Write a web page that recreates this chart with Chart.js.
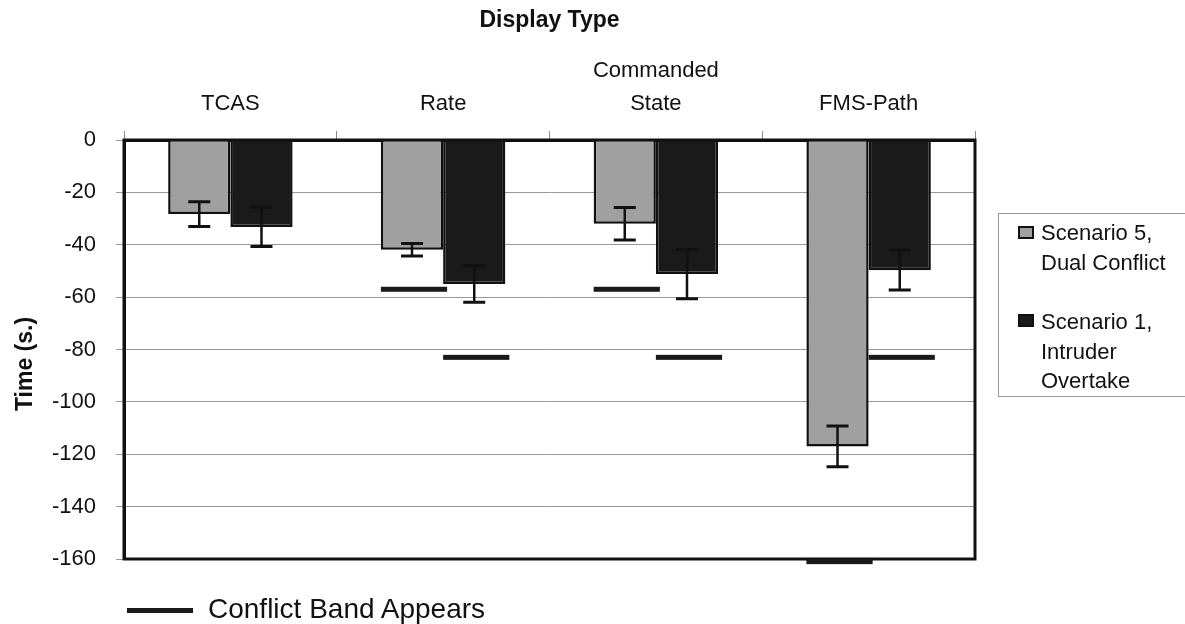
<!DOCTYPE html>
<html>
<head>
<meta charset="utf-8">
<script src="https://cdn.jsdelivr.net/npm/chart.js@4/dist/chart.umd.min.js"></script>
<style>
  html, body { margin: 0; padding: 0; background: #fff; }
  #wrap { position: relative; width: 1185px; height: 624px; overflow: hidden; font-family: "Liberation Sans", Arial, Helvetica, sans-serif; color: #111; }
  #c { position: absolute; left: 0; top: 0; }
  .legbox { position: absolute; left: 998px; top: 213px; width: 200px; height: 184px; border: 1px solid #999; box-sizing: border-box; }
  .mk { position: absolute; width: 16px; height: 13px; box-sizing: border-box; border: 2px solid #111; }
  .lt { position: absolute; font-size: 22px; line-height: 29.5px; white-space: nowrap; }
  .bandline { position: absolute; left: 127px; top: 608px; width: 66px; height: 5px; background: #1a1a1a; }
  .bandtxt { position: absolute; left: 208px; top: 593px; font-size: 28px; line-height: 32px; white-space: nowrap; }
</style>
</head>
<body>
<div id="wrap">
  <canvas id="c" width="1185" height="624"></canvas>
  <div class="legbox"></div>
  <div class="mk" style="left:1018px; top:226px; background:#a0a0a0;"></div>
  <div class="lt" style="left:1041px; top:218px;">Scenario 5,<br>Dual Conflict</div>
  <div class="mk" style="left:1018px; top:314px; background:#1a1a1a;"></div>
  <div class="lt" style="left:1041px; top:307px;">Scenario 1,<br>Intruder<br>Overtake</div>
  <div class="bandline"></div>
  <div class="bandtxt">Conflict Band Appears</div>
</div>
<script>
// ---- data ----
const categories = [['TCAS'], ['Rate'], ['Commanded', 'State'], ['FMS-Path']];
const seriesNames = ['Scenario 5, Dual Conflict', 'Scenario 1, Intruder Overtake'];
const scenario5 = [-28.3, -41.9, -32.0, -117.0];
const scenario5Err = [4.75, 2.35, 6.2, 7.8];
const scenario1 = [-33.2, -55.0, -51.2, -49.7];
const scenario1Err = [7.5, 7.0, 9.4, 7.6];
const scenario5Band = [null, -57, -57, -161];
const scenario1Band = [null, -83, -83, -83];
const yMin = -160, yMax = 0, yStep = 20;

const FONT = '"Liberation Sans", Arial, Helvetica, sans-serif';
const errors = [scenario5Err, scenario1Err];
const bands = [scenario5Band, scenario1Band];

const overlay = {
  id: 'overlay',
  afterDatasetsDraw(chart) {
    const ctx = chart.ctx;
    const a = chart.chartArea;
    const y = chart.scales.y;
    ctx.save();
    // frame
    ctx.strokeStyle = '#111';
    ctx.lineWidth = 3;
    ctx.strokeRect(a.left, a.top, a.right - a.left, a.bottom - a.top);
    // error bars and conflict bands
    [0, 1].forEach(di => {
      const meta = chart.getDatasetMeta(di);
      const vals = chart.data.datasets[di].data;
      meta.data.forEach((bar, i) => {
        const v = vals[i];
        const e = errors[di][i];
        const cx = bar.x;
        const yt = y.getPixelForValue(v + e);
        const yb = y.getPixelForValue(v - e);
        ctx.strokeStyle = '#111';
        ctx.lineWidth = 2.5;
        ctx.beginPath();
        ctx.moveTo(cx, yt); ctx.lineTo(cx, yb);
        ctx.stroke();
        ctx.lineWidth = 3;
        ctx.beginPath();
        ctx.moveTo(cx - 11, yt); ctx.lineTo(cx + 11, yt);
        ctx.moveTo(cx - 11, yb); ctx.lineTo(cx + 11, yb);
        ctx.stroke();
        const b = bands[di][i];
        if (b !== null && b !== undefined) {
          const by = y.getPixelForValue(b);
          ctx.fillStyle = '#1a1a1a';
          ctx.fillRect(bar.x - bar.width / 2, by - 2.5, bar.width + 4, 5);
        }
      });
    });
    // y-axis title
    ctx.translate(26, 364);
    ctx.rotate(-Math.PI / 2);
    ctx.fillStyle = '#111';
    ctx.font = 'bold 23px ' + FONT;
    ctx.textAlign = 'center';
    ctx.textBaseline = 'middle';
    ctx.fillText('Time (s.)', 0, 0);
    ctx.restore();
  }
};

new Chart(document.getElementById('c'), {
  type: 'bar',
  data: {
    labels: categories,
    datasets: [
      { label: seriesNames[0], data: scenario5, backgroundColor: '#a0a0a0', borderColor: '#111', borderWidth: 2.5, borderSkipped: 'start' },
      { label: seriesNames[1], data: scenario1, backgroundColor: '#1a1a1a', borderColor: '#111', borderWidth: 2.5, borderSkipped: 'start' }
    ]
  },
  options: {
    responsive: false,
    animation: false,
    categoryPercentage: 0.585,
    barPercentage: 1.0,
    layout: { padding: { left: 0, top: 0, right: 210, bottom: 65 } },
    plugins: { legend: { display: false }, tooltip: { enabled: false }, title: { display: false } },
    scales: {
      x: {
        position: 'top',
        offset: true,
        grid: { offset: true, drawOnChartArea: false, tickLength: 9, color: '#888', lineWidth: 1 },
        border: { display: true, color: '#111', width: 3 },
        ticks: { font: { family: FONT, size: 22, lineHeight: 1.5 }, color: '#111', padding: 10.5, maxRotation: 0, autoSkip: false },
        title: { display: true, text: 'Display Type', color: '#111', font: { family: FONT, size: 23, weight: 'bold', lineHeight: 1.2 }, padding: { top: 7, bottom: 0 } },
        afterFit(s) { s.height = 140; }
      },
      y: {
        min: yMin, max: yMax,
        ticks: { stepSize: yStep, font: { family: FONT, size: 22 }, color: '#111', padding: 20 },
        grid: { color: '#999', lineWidth: 1, tickLength: 8 },
        border: { display: true, color: '#111', width: 3 },
        afterFit(s) { s.width = 124; }
      }
    }
  },
  plugins: [overlay]
});
</script>
</body>
</html>
